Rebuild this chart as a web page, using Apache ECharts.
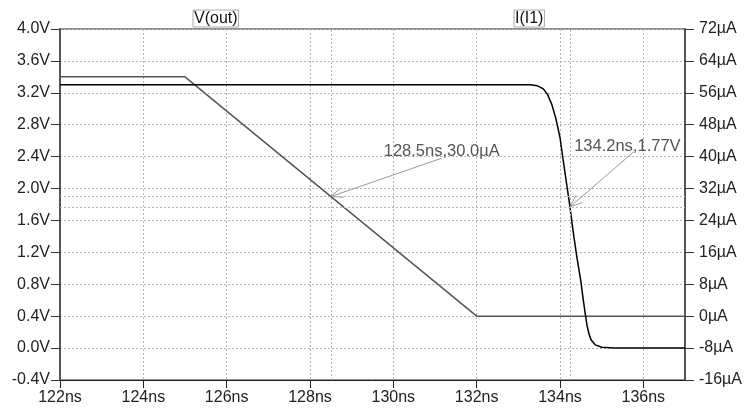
<!DOCTYPE html>
<html>
<head>
<meta charset="utf-8">
<script src="https://cdn.jsdelivr.net/npm/echarts@6/dist/echarts.min.js"></script>
<style>
	html, body { margin: 0; background: #fff; }
	#chart { width: 745px; height: 411px; }
</style>
</head>
<body>
<div id="chart"></div>
<script>
	// V(out): ns / V
	const voutTime = [122, 133.3, 133.45, 133.6, 133.7, 133.8, 133.9, 134.0, 134.1, 134.24, 134.3, 134.4, 134.5, 134.55, 134.6, 134.65, 134.7, 134.75, 134.85, 135.0, 135.3, 137];
	const voutVal = [3.3, 3.3, 3.29, 3.25, 3.18, 3.06, 2.88, 2.64, 2.27, 1.77, 1.52, 1.16, 0.84, 0.64, 0.45, 0.28, 0.17, 0.10, 0.04, 0.01, 0.0, 0.0];
	// I(I1): ns / µA
	const iTime = [122, 125, 132, 137];
	const iVal = [60, 60, 0, 0];
	// cursors
	const cursorI = [128.5, 30.0];
	const cursorV = [134.24, 1.77];
	const labelI = '128.5ns,30.0µA';
	const labelV = '134.2ns,1.77V';
	// where the cursor texts sit (data coords) and where the arrows start
	const textI = [129.77, 41.4], tailI = [131.16, 39.6];
	const textV = [134.34, 2.53], tailV = [135.77, 2.46];

	const font = 'Liberation Sans, Arial, sans-serif';
	const gridLine = { show: true, lineStyle: { color: '#b4b4b4', type: [2, 2], width: 1 } };
	const cursorLine = { color: '#b4b4b4', type: [2, 2], width: 1 };

	let myChart = echarts.init(document.getElementById('chart'));
	myChart.setOption({
		animation: false,
		grid: { left: 60, right: 57, top: 29, bottom: 31, show: true, borderColor: '#222', borderWidth: 1 },
		xAxis: {
			type: 'value', min: 122, max: 137, interval: 2,
			axisLine: { onZero: false, lineStyle: { color: '#222', width: 1 } },
			axisTick: { length: 8, lineStyle: { color: '#222' } },
			axisLabel: { formatter: v => v + 'ns', color: '#222', fontSize: 16, fontFamily: font, margin: 10, showMaxLabel: false },
			splitLine: gridLine
		},
		yAxis: [{
			type: 'value', min: -0.4, max: 4.0, interval: 0.4, position: 'left',
			axisLine: { show: true, onZero: false, lineStyle: { color: '#555', width: 2 } },
			axisTick: { show: true, length: 9, lineStyle: { color: '#333' } },
			axisLabel: { formatter: v => (Math.abs(v) < 1e-9 ? 0 : v).toFixed(1) + 'V', color: '#222', fontSize: 16, fontFamily: font, margin: 10 },
			splitLine: gridLine
		}, {
			type: 'value', min: -16, max: 72, interval: 8, position: 'right',
			axisLine: { show: true, onZero: false, lineStyle: { color: '#555', width: 2 } },
			axisTick: { show: true, length: 9, lineStyle: { color: '#333' } },
			axisLabel: { formatter: v => v + 'µA', color: '#222', fontSize: 16, fontFamily: font, margin: 14 },
			splitLine: { show: false }
		}],
		series: [{
			name: 'I(I1)', type: 'line', yAxisIndex: 1, showSymbol: false,
			data: iTime.map((t, k) => [t, iVal[k]]),
			lineStyle: { color: '#555', width: 1.5 },
			markLine: {
				silent: true, symbol: 'none', label: { show: false }, lineStyle: cursorLine,
				data: [{ xAxis: cursorI[0] }, { yAxis: cursorI[1] }]
			}
		}, {
			name: 'V(out)', type: 'line', yAxisIndex: 0, showSymbol: false,
			data: voutTime.map((t, k) => [t, voutVal[k]]),
			lineStyle: { color: '#000', width: 1.5 },
			markLine: {
				silent: true, symbol: 'none', label: { show: false }, lineStyle: cursorLine,
				data: [{ xAxis: cursorV[0] }, { yAxis: cursorV[1] }]
			}
		}]
	});

	// cursor texts and arrows
	function arrow(tail, head) {
		const a = Math.atan2(tail[1] - head[1], tail[0] - head[0]);
		const len = 13, sp = 0.38;
		const b1 = [head[0] + len * Math.cos(a + sp), head[1] + len * Math.sin(a + sp)];
		const b2 = [head[0] + len * Math.cos(a - sp), head[1] + len * Math.sin(a - sp)];
		const st = { stroke: '#999', lineWidth: 1 };
		return [
			{ type: 'line', shape: { x1: tail[0], y1: tail[1], x2: head[0], y2: head[1] }, style: st },
			{ type: 'line', shape: { x1: head[0], y1: head[1], x2: b1[0], y2: b1[1] }, style: st },
			{ type: 'line', shape: { x1: head[0], y1: head[1], x2: b2[0], y2: b2[1] }, style: st }
		];
	}
	const onI = { xAxisIndex: 0, yAxisIndex: 1 };
	const onV = { xAxisIndex: 0, yAxisIndex: 0 };
	const pTextI = myChart.convertToPixel(onI, textI);
	const pTextV = myChart.convertToPixel(onV, textV);
	const g = [].concat(
		arrow(myChart.convertToPixel(onI, tailI), myChart.convertToPixel(onI, cursorI)),
		arrow(myChart.convertToPixel(onV, tailV), myChart.convertToPixel(onV, cursorV)),
		[
			{ type: 'text', x: pTextI[0], y: pTextI[1], style: { text: labelI, fill: '#555', font: '16.5px ' + font, verticalAlign: 'middle' } },
			{ type: 'text', x: pTextV[0], y: pTextV[1], style: { text: labelV, fill: '#555', font: '16.5px ' + font, verticalAlign: 'middle' } },
			{ type: 'text', x: 193, y: 10, style: { text: 'V(out)', fill: '#111', font: '16px ' + font, borderColor: '#aaa', borderWidth: 1, padding: [1, 1, 0, 1] } },
			{ type: 'text', x: 514, y: 10, style: { text: 'I(I1)', fill: '#111', font: '16px ' + font, borderColor: '#aaa', borderWidth: 1, padding: [1, 1, 0, 1] } }
		]
	);
	myChart.setOption({ graphic: g });
</script>
</body>
</html>
